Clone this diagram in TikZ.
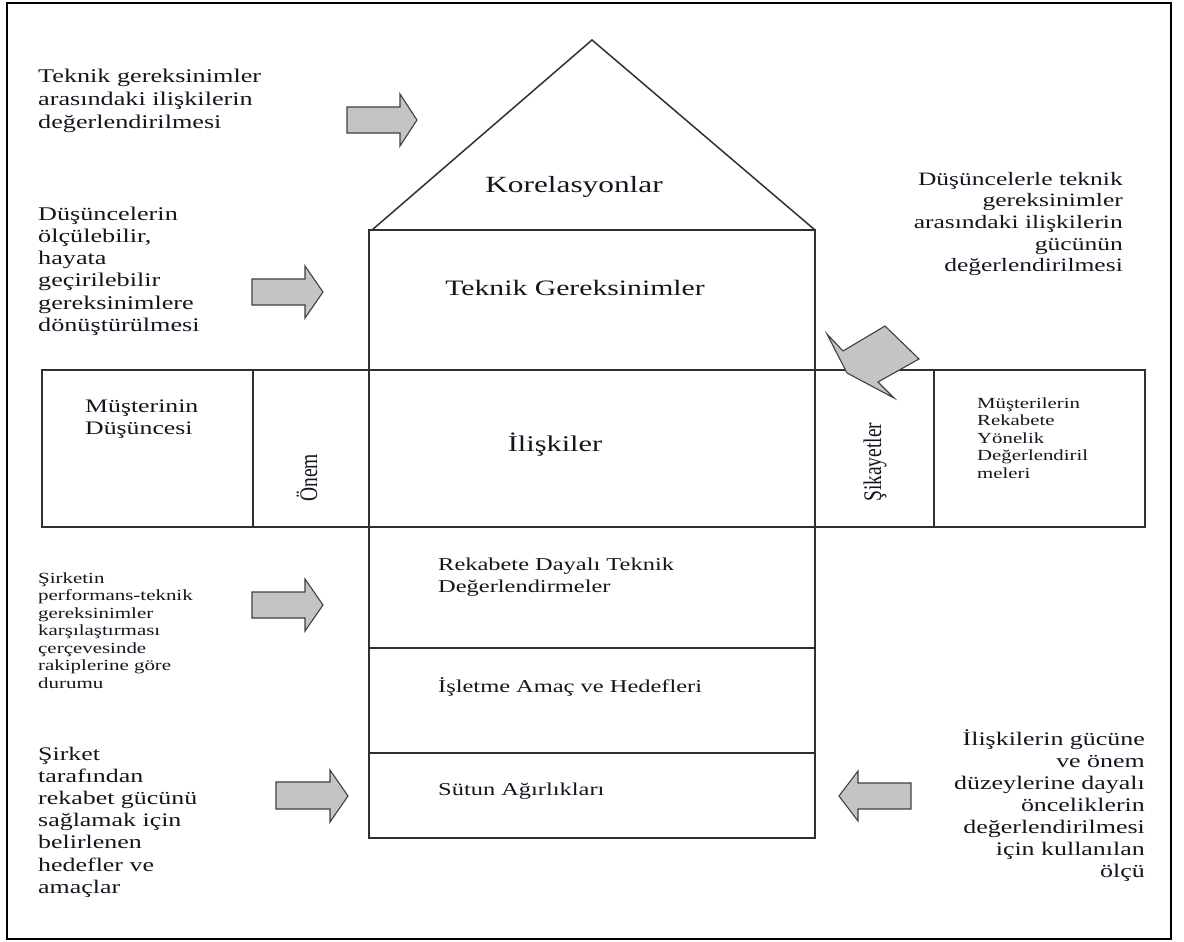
\documentclass[tikz,border=0pt]{standalone}
\usepackage{graphicx}
\usepackage{fontspec}
\setmainfont{Liberation Serif}[FakeStretch=1.35]
\newfontfamily\plainserif{Liberation Serif}
\newcommand{\blockL}[1]{\vtop{\halign{##\hfil\cr #1\crcr}}}
\newcommand{\blockR}[1]{\vtop{\halign{\hfil##\cr #1\crcr}}}
\newcommand{\fs}[2]{\fontsize{#1}{#2}\selectfont}
\definecolor{linegray}{HTML}{303030}
\definecolor{arrowfill}{HTML}{C4C4C4}
\definecolor{arrowedge}{HTML}{404040}
\definecolor{txt}{HTML}{15151F}
\begin{document}
\begin{tikzpicture}[x=1pt,y=-1pt,
  houseline/.style={draw=linegray, line width=1.5pt},
  blockarrow/.style={fill=arrowfill, draw=arrowedge, line width=1.1pt, line join=miter},
  lbl/.style={inner sep=0pt, text=txt},
  vlbl/.style={inner sep=0pt, text=txt, rotate=90, anchor=west}]
\useasboundingbox (0,0) rectangle (1184,942);
\fill[white] (0,0) rectangle (1184,942);
% outer frame
\draw[line width=2.6pt, black] (7,3) rectangle (1171,939);

% house
\draw[houseline] (372,230) -- (592,40) -- (815,230);
\draw[houseline] (369,230) rectangle (815,838);
\draw[houseline] (369,648) -- (815,648);
\draw[houseline] (369,753) -- (815,753);
% central row
\draw[houseline] (42,370) rectangle (1145,527);
\draw[houseline] (253,370) -- (253,527);
\draw[houseline] (934,370) -- (934,527);

% block arrows
\draw[blockarrow] (347,107) -- (400,107) -- (400,94) -- (417,120) -- (400,146) -- (400,133) -- (347,133) -- cycle;
\draw[blockarrow] (252,279) -- (305,279) -- (305,266) -- (323,292) -- (305,318) -- (305,305) -- (252,305) -- cycle;
\draw[blockarrow] (252,592) -- (305,592) -- (305,579) -- (323,605) -- (305,631) -- (305,618) -- (252,618) -- cycle;
\draw[blockarrow] (276,782) -- (330,782) -- (330,770) -- (348,796) -- (330,822) -- (330,809) -- (276,809) -- cycle;
\draw[blockarrow] (911,783) -- (858,783) -- (858,771) -- (839,796) -- (858,821) -- (858,809) -- (911,809) -- cycle;
\draw[blockarrow] (827,334) -- (843,351) -- (885,326) -- (919,359) -- (878,382) -- (894,398) -- (847,373) -- cycle;

% house texts
\node[lbl, anchor=base] (kor) at (574,192) {\fs{23.2}{26}Korelasyonlar};
\node[lbl, anchor=base] (tek) at (575,295) {\fs{22}{25}Teknik Gereksinimler};
\node[lbl, anchor=base] (ili) at (555,451) {\fs{22.5}{25}İlişkiler};
\node[lbl, anchor=base west] (rek) at (438,570) {\fs{18.1}{22}\blockL{Rekabete Dayalı Teknik\cr Değerlendirmeler}};
\node[lbl, anchor=base west] (isl) at (438,692) {\fs{18.1}{22}İşletme Amaç ve Hedefleri};
\node[lbl, anchor=base west] (sut) at (438,795) {\fs{18.1}{22}Sütun Ağırlıkları};

% row texts
\node[lbl, anchor=base west] (mus) at (85,412) {\fs{19.1}{22}\blockL{Müşterinin\cr Düşüncesi}};
\node[vlbl] (onem) at (307,502) {\plainserif\fs{19.5}{21}\scalebox{1}[1.3]{Önem}};
\node[vlbl] (sik) at (875,502) {\plainserif\fs{19.5}{21}\scalebox{1}[1.3]{Şikayetler}};
\node[lbl, anchor=base west] (rak) at (977,408) {\fs{15.4}{17.5}\blockL{Müşterilerin\cr Rekabete\cr Yönelik\cr Değerlendiril\cr meleri}};

% side texts
\node[lbl, anchor=base west] (t1) at (38,83) {\fs{19.4}{22.6}\blockL{Teknik gereksinimler\cr arasındaki ilişkilerin\cr değerlendirilmesi}};
\node[lbl, anchor=base west] (t2) at (38,220) {\fs{19.4}{22.3}\blockL{Düşüncelerin\cr ölçülebilir,\cr hayata\cr geçirilebilir\cr gereksinimlere\cr dönüştürülmesi}};
\node[lbl, anchor=base west] (t3) at (38,583) {\fs{15.5}{17.5}\blockL{Şirketin\cr performans-teknik\cr gereksinimler\cr karşılaştırması\cr çerçevesinde\cr rakiplerine göre\cr durumu}};
\node[lbl, anchor=base west] (t4) at (38,760) {\fs{19.2}{22.2}\blockL{Şirket\cr tarafından\cr rekabet gücünü\cr sağlamak için\cr belirlenen\cr hedefler ve\cr amaçlar}};
\node[lbl, anchor=base east] (t5) at (1123,185) {\fs{18.9}{21.7}\blockR{Düşüncelerle teknik\cr gereksinimler\cr arasındaki ilişkilerin\cr gücünün\cr değerlendirilmesi}};
\node[lbl, anchor=base east] (t6) at (1145,745) {\fs{19.2}{22}\blockR{İlişkilerin gücüne\cr ve önem\cr düzeylerine dayalı\cr önceliklerin\cr değerlendirilmesi\cr için kullanılan\cr ölçü}};
\end{tikzpicture}
\end{document}
